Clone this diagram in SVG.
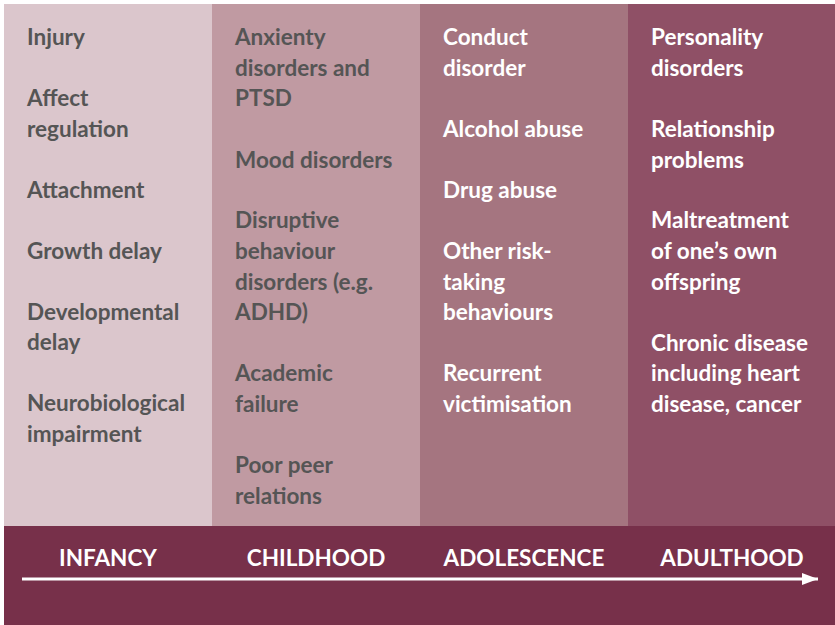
<svg xmlns="http://www.w3.org/2000/svg" width="835" height="625" viewBox="0 0 835 625">
<defs>
<style>
.t{font-family:Lato,"Open Sans","Liberation Sans",sans-serif;font-weight:bold;font-size:22.5px}
.d{fill:#555555}
.w{fill:#ffffff}
.h{font-family:Lato,"Open Sans","Liberation Sans",sans-serif;font-weight:bold;font-size:22.5px;fill:#ffffff;text-anchor:middle}
</style>
<marker id="ah" markerWidth="16" markerHeight="12" refX="16" refY="6" orient="auto" markerUnits="userSpaceOnUse">
<path d="M0,0 L16,6 L0,12 Z" fill="#ffffff"/>
</marker>
</defs>
<rect x="0" y="0" width="835" height="625" fill="#ffffff"/>
<g id="infancy">
<rect x="4" y="4" width="208" height="522" fill="#dbc6cc"/>
<text class="t d" x="27"><tspan x="27" y="45">Injury</tspan><tspan x="27" y="106">Affect</tspan><tspan x="27" y="137">regulation</tspan><tspan x="27" y="198">Attachment</tspan><tspan x="27" y="259">Growth delay</tspan><tspan x="27" y="320">Developmental</tspan><tspan x="27" y="350">delay</tspan><tspan x="27" y="411">Neurobiological</tspan><tspan x="27" y="442">impairment</tspan></text>
</g>
<g id="childhood">
<rect x="212" y="4" width="208" height="522" fill="#c09aa2"/>
<text class="t d"><tspan x="235" y="45">Anxienty</tspan><tspan x="235" y="76">disorders and</tspan><tspan x="235" y="106">PTSD</tspan><tspan x="235" y="168">Mood disorders</tspan><tspan x="235" y="228">Disruptive</tspan><tspan x="235" y="259">behaviour</tspan><tspan x="235" y="290">disorders (e.g.</tspan><tspan x="235" y="320">ADHD)</tspan><tspan x="235" y="381">Academic</tspan><tspan x="235" y="412">failure</tspan><tspan x="235" y="473">Poor peer</tspan><tspan x="235" y="504">relations</tspan></text>
</g>
<g id="adolescence">
<rect x="420" y="4" width="208" height="522" fill="#a57580"/>
<text class="t w"><tspan x="443" y="45">Conduct</tspan><tspan x="443" y="76">disorder</tspan><tspan x="443" y="137">Alcohol abuse</tspan><tspan x="443" y="198">Drug abuse</tspan><tspan x="443" y="259">Other risk-</tspan><tspan x="443" y="290">taking</tspan><tspan x="443" y="320">behaviours</tspan><tspan x="443" y="381">Recurrent</tspan><tspan x="443" y="412">victimisation</tspan></text>
</g>
<g id="adulthood">
<rect x="628" y="4" width="207" height="522" fill="#8f5066"/>
<text class="t w"><tspan x="651" y="45">Personality</tspan><tspan x="651" y="76">disorders</tspan><tspan x="651" y="137">Relationship</tspan><tspan x="651" y="168">problems</tspan><tspan x="651" y="228">Maltreatment</tspan><tspan x="651" y="259">of one’s own</tspan><tspan x="651" y="290">offspring</tspan><tspan x="651" y="351">Chronic disease</tspan><tspan x="651" y="381">including heart</tspan><tspan x="651" y="412">disease, cancer</tspan></text>
</g>
<g id="timeline">
<rect x="4" y="526" width="831" height="99" fill="#77304a"/>
<text class="h" x="108" y="566">INFANCY</text>
<text class="h" x="316" y="566">CHILDHOOD</text>
<text class="h" x="524" y="566">ADOLESCENCE</text>
<text class="h" x="732" y="566">ADULTHOOD</text>
</g>
<g id="connectors">
<line x1="22" y1="579" x2="818" y2="579" stroke="#ffffff" stroke-width="3" marker-end="url(#ah)"/>
</g>
</svg>
